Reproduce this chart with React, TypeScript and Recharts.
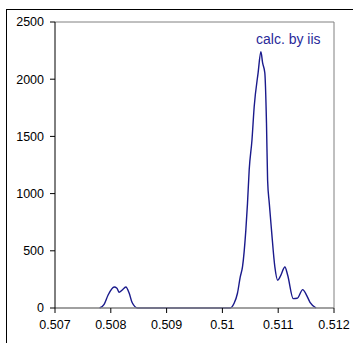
import { LineChart, Line, XAxis, YAxis, ReferenceLine } from "recharts";

const xValues = [
  0.5078, 0.50788, 0.50795, 0.50806, 0.50811, 0.50815, 0.5082, 0.50827, 0.50833, 0.50838, 0.50848,
  0.509, 0.5095, 0.51, 0.51014, 0.51021, 0.51027, 0.51032, 0.51036, 0.51042, 0.51045, 0.51048,
  0.51053, 0.51057, 0.51064, 0.51069, 0.51072, 0.51076, 0.51079, 0.51081, 0.51084, 0.51088,
  0.51094, 0.51099, 0.51104, 0.51112, 0.51117, 0.51127, 0.51134, 0.51144, 0.5115, 0.51157, 0.51168,
];
const yValues = [
  0, 32, 111, 184, 173, 137, 155, 184, 129, 50, 0,
  0, 0, 0, 0, 41, 129, 272, 359, 681, 917, 1206,
  1469, 1761, 2056, 2240, 2144, 2056, 1618, 1119, 917, 681,
  359, 243, 278, 359, 286, 82, 85, 161, 120, 50, 0,
];
const xTicks = [0.507, 0.508, 0.509, 0.51, 0.511, 0.512];
const yTicks = [0, 500, 1000, 1500, 2000, 2500];

const data = xValues.map((x, i) => ({ x, y: yValues[i] }));

const tickStyle = { fontFamily: "Liberation Sans, Arial", fontSize: 12.5, fill: "#000" };

export default function App() {
  return (
    <div style={{ position: "absolute", left: 0, top: 0, width: 353, height: 343, overflow: "hidden", background: "#fff" }}>
      <div style={{ position: "absolute", left: 6, top: 9, width: 360, height: 360, border: "1px solid #000" }} />
      <div style={{ position: "absolute", left: 0, top: 0 }}>
        <LineChart width={353} height={343} data={data} margin={{ top: 22, right: 19, left: 0, bottom: 0 }}>
          <XAxis
            dataKey="x"
            type="number"
            domain={[0.507, 0.512]}
            ticks={xTicks}
            allowDataOverflow
            height={35}
            tickSize={5}
            tickMargin={7}
            axisLine={{ stroke: "#808080", strokeWidth: 1.5 }}
            tickLine={{ stroke: "#000" }}
            tick={tickStyle}
          />
          <YAxis
            type="number"
            domain={[0, 2500]}
            ticks={yTicks}
            width={55}
            tickSize={5}
            tickMargin={6}
            axisLine={{ stroke: "#000" }}
            tickLine={{ stroke: "#000" }}
            tick={tickStyle}
          />
          <ReferenceLine y={2500} stroke="#808080" />
          <ReferenceLine x={0.512} stroke="#808080" />
          <Line
            dataKey="y"
            type="monotone"
            stroke="#1a1a8c"
            strokeWidth={1.4}
            dot={false}
            isAnimationActive={false}
          />
        </LineChart>
      </div>
      <div
        style={{
          position: "absolute",
          left: 256,
          top: 31,
          fontFamily: "Liberation Sans, Arial",
          fontSize: 14,
          color: "#2a2a99",
          whiteSpace: "pre",
          lineHeight: "16px",
        }}
      >
        calc. by iis
      </div>
    </div>
  );
}
